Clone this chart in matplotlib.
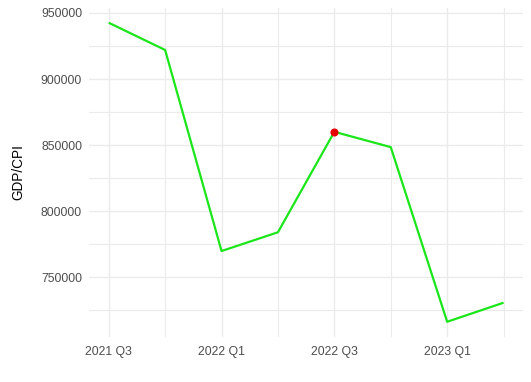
import matplotlib.pyplot as plt
from matplotlib.ticker import FixedLocator, MultipleLocator

plt.rcParams["font.family"] = ["Liberation Sans", "DejaVu Sans"]

quarters = ["2021 Q3", "2021 Q4", "2022 Q1", "2022 Q2",
            "2022 Q3", "2022 Q4", "2023 Q1", "2023 Q2"]
gdp_cpi = [942600, 922000, 769900, 784100, 860100, 848500, 716400, 730800]
highlight = "2022 Q3"

x = list(range(len(quarters)))
hi = quarters.index(highlight)

fig = plt.figure(figsize=(5.31, 3.82), dpi=100)
ax = fig.add_axes([89 / 531, 1 - 336.7 / 382, (523.3 - 89) / 531, (336.7 - 7.8) / 382])

ax.plot(x, gdp_cpi, color="#1AE61A", linewidth=1.6, solid_capstyle="butt", zorder=3)
ax.plot(x[hi], gdp_cpi[hi], "o", color="#E60000", markersize=4.8, zorder=4)

# ggplot style 5% expansion
lo, hi_v = min(gdp_cpi), max(gdp_cpi)
pad = (hi_v - lo) * 0.05
ax.set_ylim(lo - pad, hi_v + pad)
ax.set_xlim(-0.35, len(x) - 1 + 0.35)

ax.xaxis.set_major_locator(FixedLocator(x[::2]))
ax.set_xticklabels(quarters[::2])
ax.xaxis.set_minor_locator(FixedLocator(x[1::2]))
ax.yaxis.set_major_locator(MultipleLocator(50000))
ax.yaxis.set_minor_locator(MultipleLocator(25000))
ax.yaxis.set_major_formatter(plt.FuncFormatter(lambda v, p: f"{int(v)}"))

ax.grid(True, which="major", color="#EBEBEB", linewidth=1.0)
ax.grid(True, which="minor", color="#EBEBEB", linewidth=0.8)
ax.set_axisbelow(True)

for s in ax.spines.values():
    s.set_visible(False)
ax.tick_params(which="both", length=0)
ax.tick_params(axis="y", labelsize=8.8, labelcolor="#4D4D4D", pad=5)
ax.tick_params(axis="x", labelsize=8.8, labelcolor="#4D4D4D", pad=7)

ax.set_ylabel("GDP/CPI", fontsize=9.8, color="black", labelpad=11)

fig.savefig("out.png", dpi=100)
